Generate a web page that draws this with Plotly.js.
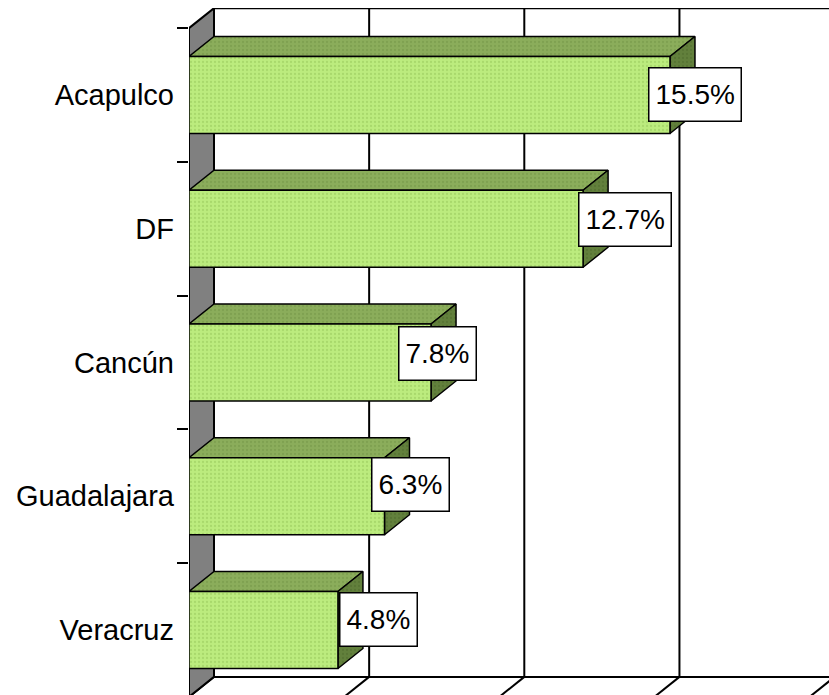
<!DOCTYPE html>
<html>
<head>
<meta charset="utf-8">
<script src="https://cdn.plot.ly/plotly-3.0.1.min.js"></script>
<style>html,body{margin:0;padding:0;background:#fff;}#chart{width:829px;height:695px;}</style>
</head>
<body>
<div id="chart"></div>
<script>
// ---- data ----
const categories = ['Acapulco', 'DF', 'Cancún', 'Guadalajara', 'Veracruz'];
const values = [15.5, 12.7, 7.8, 6.3, 4.8];
const valueLabels = ['15.5%', '12.7%', '7.8%', '6.3%', '4.8%'];
const gridTicks = [0, 5, 10, 15, 20];

// ---- geometry / style (pixels -> axis units) ----
const PX_PER_X = 31.03;
const PX_PER_Y = 133.75;
const DX = 25 / PX_PER_X;      // 3D depth along x
const DY = 20 / PX_PER_Y;      // 3D depth along y (upwards)
const HALF = 38.5 / PX_PER_Y;  // half bar thickness
const labelShiftX = [25.5, 42, 6.5, 26, 41];
const labelShiftY = [1, 9.75, 9, 11.75, 10.5];

const pos = categories.map((c, i) => i);
const yTop = -0.5, yBot = categories.length - 0.5;
const xMax = gridTicks[gridTicks.length - 1];

// back wall, gridlines and floor
const wx = [], wy = [];
function seg(x0, y0, x1, y1) { wx.push(x0, x1, null); wy.push(y0, y1, null); }
seg(DX, yTop - DY, xMax + DX, yTop - DY);          // back wall top
seg(DX, yBot - DY, xMax + DX, yBot - DY);          // back floor edge
gridTicks.forEach(g => {
  seg(g + DX, yTop - DY, g + DX, yBot - DY);       // gridline on back wall
  seg(g + DX, yBot - DY, g, yBot);                 // floor diagonal
});

// left (side) wall
const leftWall = {
  x: [0, DX, DX, 0, 0], y: [yTop, yTop - DY, yBot - DY, yBot, yTop],
  type: 'scatter', mode: 'lines', fill: 'toself', fillcolor: '#808080',
  line: {color: '#000', width: 2}, hoverinfo: 'skip', showlegend: false, zindex: 0
};

// bar faces: front, top, side
const fx = [], fy = [], tx = [], ty = [], sx = [], sy = [];
values.forEach((v, i) => {
  const y0 = pos[i] - HALF, y1 = pos[i] + HALF;
  fx.push(0, v, v, 0, 0, null);
  fy.push(y0, y0, y1, y1, y0, null);
  tx.push(0, v, v + DX, DX, 0, null);
  ty.push(y0, y0, y0 - DY, y0 - DY, y0, null);
  sx.push(v, v + DX, v + DX, v, v, null);
  sy.push(y0, y0 - DY, y1 - DY, y1, y0, null);
});

const traces = [
  {x: wx, y: wy, type: 'scatter', mode: 'lines', line: {color: '#000', width: 2},
   hoverinfo: 'skip', showlegend: false, zindex: 0},
  leftWall,
  {x: tx, y: ty, type: 'scatter', mode: 'lines', fill: 'toself', fillcolor: '#8bad5b',
   fillpattern: {shape: '.', fgcolor: '#7fa151', bgcolor: '#8bad5b', size: 4, solidity: 0.25},
   line: {color: '#000', width: 1.5}, hoverinfo: 'skip', showlegend: false, zindex: 1},
  {x: sx, y: sy, type: 'scatter', mode: 'lines', fill: 'toself', fillcolor: '#62803c',
   fillpattern: {shape: '.', fgcolor: '#587534', bgcolor: '#62803c', size: 4, solidity: 0.25},
   line: {color: '#000', width: 1.5}, hoverinfo: 'skip', showlegend: false, zindex: 1},
  {x: fx, y: fy, type: 'scatter', mode: 'lines', fill: 'toself', fillcolor: '#bcec7e',
   fillpattern: {shape: '.', fgcolor: '#a9d96c', bgcolor: '#bcec7e', size: 4, solidity: 0.25},
   line: {color: '#000', width: 1.5}, hoverinfo: 'skip', showlegend: false, zindex: 2}
];

const annotations = values.map((v, i) => ({
  x: v, y: pos[i], xref: 'x', yref: 'y', text: valueLabels[i], showarrow: false,
  xanchor: 'center', yanchor: 'middle', xshift: labelShiftX[i], yshift: labelShiftY[i],
  font: {family: 'Arial, Liberation Sans, sans-serif', size: 28, color: '#000'},
  bgcolor: '#fff', bordercolor: '#000', borderwidth: 1.5, borderpad: 6, height: 40
}));

const W = 829, H = 695, ML = 189, MT = 8;
const layout = {
  width: W, height: H,
  margin: {l: ML, r: 0, t: MT, b: 0, pad: 0},
  paper_bgcolor: '#fff', plot_bgcolor: 'rgba(0,0,0,0)',
  showlegend: false,
  font: {family: 'Arial, Liberation Sans, sans-serif', size: 28, color: '#000'},
  xaxis: {range: [0, (W - ML) / PX_PER_X], showgrid: false, zeroline: false,
          showline: false, showticklabels: false, ticks: '', fixedrange: true},
  yaxis: {range: [(H - 95) / PX_PER_Y, (MT - 95) / PX_PER_Y],
          tickmode: 'array', tickvals: pos, ticktext: categories, ticks: '',
          showgrid: false, zeroline: false, showline: false, ticklabelstandoff: 14,
          tickfont: {family: 'Arial, Liberation Sans, sans-serif', size: 29, color: '#000'},
          minor: {tickmode: 'array', tickvals: [-0.5, 0.5, 1.5, 2.5, 3.5, 4.5],
                  ticks: 'outside', ticklen: 11, tickwidth: 2, tickcolor: '#000', showgrid: false},
          fixedrange: true},
  annotations: annotations
};

Plotly.newPlot('chart', traces, layout, {staticPlot: true, displayModeBar: false});
</script>
</body>
</html>
